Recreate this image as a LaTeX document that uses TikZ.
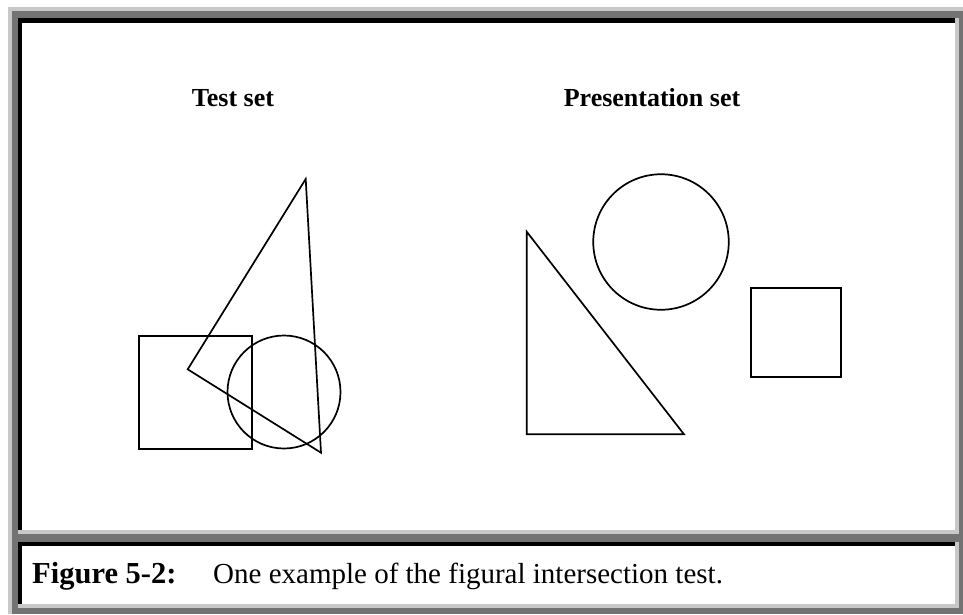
\documentclass[tikz,border=0pt]{standalone}
\usepackage{fontspec}
\setmainfont{Liberation Serif}
\definecolor{dgray}{HTML}{737373}
\definecolor{lgray}{HTML}{C8C8C8}
\begin{document}
\begin{tikzpicture}[x=1pt,y=-1pt,
  figline/.style={draw=black,line width=1.7pt,line join=miter},
  titletext/.style={font=\fontsize{26}{26}\selectfont\bfseries,anchor=base,inner sep=0pt},
  captext/.style={font=\fontsize{29}{29}\selectfont,anchor=base west,inner sep=0pt}]
\useasboundingbox (0,0) rectangle (963,614);
\fill[white] (0,0) rectangle (963,614);
% outer frame
\fill[dgray] (8,7) rectangle (963,614);
\fill[lgray] (8,7) rectangle (963,11);
\fill[lgray] (8,7) rectangle (12,614);
% top panel
\fill[lgray] (18,18) rectangle (959,534);
\fill[black] (18,18) rectangle (955,530);
\fill[white] (22,23) rectangle (955,530);
% caption panel
\fill[lgray] (18,542) rectangle (959,608);
\fill[black] (18,542) rectangle (955,604);
\fill[white] (22,546) rectangle (955,604);
% titles
\node[titletext] (t1) at (233,106) {Test set};
\node[titletext] (t2) at (652,106) {Presentation set};
% test set shapes
\draw[figline] (139,336) rectangle (252,449);
\node[figline,circle,minimum size=113pt,inner sep=0pt] (c1) at (284,392) {};
\draw[figline] (305.7,179) -- (187.7,369.3) -- (321,452.7) -- cycle;
% presentation set shapes
\node[figline,circle,minimum size=135.5pt,inner sep=0pt] (c2) at (661,242) {};
\draw[figline] (526.7,231.7) -- (526.7,434.3) -- (684,434.3) -- cycle;
\draw[figline] (751.3,287.7) rectangle (841.3,377.3);
% caption
\node[captext,font=\fontsize{30.5}{30.5}\selectfont\bfseries] (f) at (32,583) {Figure 5-2:};
\node[captext] (d) at (213,583) {One example of the figural intersection test.};
\end{tikzpicture}
\end{document}
